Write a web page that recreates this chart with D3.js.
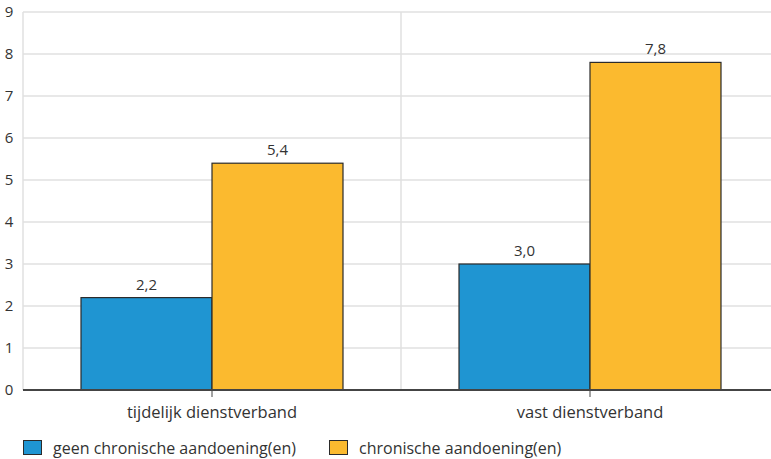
<!DOCTYPE html>
<html><head><meta charset="utf-8">
<script src="https://cdn.jsdelivr.net/npm/d3@7"></script>
<style>body{margin:0;background:#fff}svg{display:block;font-family:"Open Sans",sans-serif}</style>
</head><body><svg id="c" width="771" height="459"></svg>
<script>
const categories = ["tijdelijk dienstverband", "vast dienstverband"];
const seriesNames = ["geen chronische aandoening(en)", "chronische aandoening(en)"];
const geen = [2.2, 3.0];
const chronisch = [5.4, 7.8];
const yTicks = [0,1,2,3,4,5,6,7,8,9];
const colors = ["#1f95d2", "#fbba2f"];

(function(){
const svg = d3.select("#c");
const mLeft = 23, mRight = 779, mTop = 12, mBottom = 390;
const x = d3.scaleBand().domain(categories).range([mLeft, mRight]).padding(0);
const y = d3.scaleLinear().domain([0, 9]).range([mBottom, mTop]);
const sub = d3.scaleBand().domain([0,1]).range([58, x.bandwidth()-58]).padding(0);

// gridlines
svg.append("g").selectAll("line").data(yTicks.filter(d=>d>0)).join("line")
  .attr("x1", mLeft).attr("x2", 771).attr("y1", d=>y(d)).attr("y2", d=>y(d))
  .attr("stroke", "#e0e0e0").attr("stroke-width", 1.5);
svg.append("line").attr("x1", mLeft).attr("x2", mLeft).attr("y1", mTop).attr("y2", mBottom).attr("stroke", "#e0e0e0").attr("stroke-width", 1.5);
svg.append("line").attr("x1", x(categories[1])).attr("x2", x(categories[1])).attr("y1", mTop).attr("y2", mBottom).attr("stroke", "#e0e0e0").attr("stroke-width", 1.5);

// y labels
svg.append("g").selectAll("text").data(yTicks).join("text")
  .attr("x", 9).attr("y", d=>y(d)).attr("dy", "0.35em").attr("text-anchor", "middle")
  .attr("font-size", 15).attr("fill", "#333").text(d=>d);

// bars
const data = categories.map((c,i)=>[geen[i], chronisch[i]]);
const g = svg.append("g").selectAll("g").data(categories).join("g")
  .attr("transform", d=>`translate(${x(d)},0)`);
g.selectAll("rect").data((d,i)=>data[i].map((v,j)=>({v,j}))).join("rect")
  .attr("x", d=>sub(d.j)).attr("width", sub.bandwidth())
  .attr("y", d=>y(d.v)).attr("height", d=>y(0)-y(d.v))
  .attr("fill", d=>colors[d.j]).attr("stroke", "#2b2b2b").attr("stroke-width", 1.2);
g.selectAll("text").data((d,i)=>data[i].map((v,j)=>({v,j}))).join("text")
  .attr("x", d=>sub(d.j)+sub.bandwidth()/2).attr("y", d=>y(d.v)-8)
  .attr("text-anchor", "middle").attr("font-size", 15).attr("fill", "#333")
  .text(d=>d.v.toFixed(1).replace(".", ","));

// x axis
svg.append("line").attr("x1", mLeft).attr("x2", 771).attr("y1", mBottom).attr("y2", mBottom).attr("stroke", "#444").attr("stroke-width", 2);
svg.append("g").selectAll("line").data(categories).join("line")
  .attr("x1", d=>x(d)+x.bandwidth()/2).attr("x2", d=>x(d)+x.bandwidth()/2)
  .attr("y1", mBottom).attr("y2", mBottom+7).attr("stroke", "#444").attr("stroke-width", 1);
svg.append("g").selectAll("text").data(categories).join("text")
  .attr("x", d=>x(d)+x.bandwidth()/2).attr("y", 418).attr("text-anchor", "middle")
  .attr("font-size", 16.5).attr("fill", "#333").text(d=>d);

// legend
const legX = [23, 329];
const lg = svg.append("g").selectAll("g").data(seriesNames).join("g")
  .attr("transform", (d,i)=>`translate(${legX[i]},440)`);
lg.append("rect").attr("x", 0.5).attr("y", 0.5).attr("width", 18).attr("height", 14)
  .attr("fill", (d,i)=>colors[i]).attr("stroke", "#2b2b2b").attr("stroke-width", 1);
lg.append("text").attr("x", 30).attr("y", 8).attr("dy", "0.35em")
  .attr("font-size", 16).attr("fill", "#333").text(d=>d);
})();
</script></body></html>
